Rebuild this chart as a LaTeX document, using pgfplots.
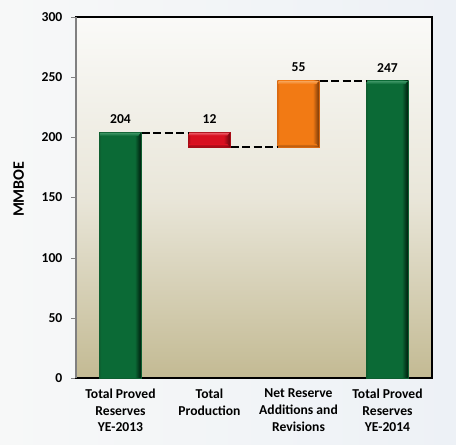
\documentclass[border=0pt]{standalone}
\usepackage{fontspec}
\setmainfont{Carlito}
\usepackage{pgfplots}
\pgfplotsset{compat=1.18}
\definecolor{gA}{HTML}{0E5E30}
\definecolor{gB}{HTML}{0B6A36}
\definecolor{gC}{HTML}{022A14}
\definecolor{gT}{HTML}{3E9565}
\definecolor{rA}{HTML}{A80C16}
\definecolor{rB}{HTML}{D81020}
\definecolor{rC}{HTML}{7A0810}
\definecolor{rT}{HTML}{EC5A66}
\definecolor{oA}{HTML}{D86810}
\definecolor{oB}{HTML}{F27A14}
\definecolor{oC}{HTML}{8E440A}
\definecolor{oT}{HTML}{F7A458}
\definecolor{bgTop}{HTML}{FAFAF8}
\definecolor{bgMid}{HTML}{E9E6D9}
\definecolor{bgBot}{HTML}{C3BA93}
\definecolor{outL}{HTML}{F7F8F8}
\definecolor{outR}{HTML}{EDF1F6}
\pgfdeclarehorizontalshading{greenbar}{100bp}{color(0bp)=(gA); color(25bp)=(gA); color(27bp)=(gB); color(67bp)=(gB); color(73bp)=(gC); color(100bp)=(gC)}
\pgfdeclarehorizontalshading{redbar}{100bp}{color(0bp)=(rA); color(25bp)=(rA); color(27bp)=(rB); color(67bp)=(rB); color(73bp)=(rC); color(100bp)=(rC)}
\pgfdeclarehorizontalshading{orangebar}{100bp}{color(0bp)=(oA); color(25bp)=(oA); color(27bp)=(oB); color(67bp)=(oB); color(73bp)=(oC); color(100bp)=(oC)}
\begin{document}
\begin{tikzpicture}
\shade[left color=outL, right color=outR] (-57pt,-49.5pt) rectangle (285pt,283.5pt);
\begin{axis}[
  at={(0,0)}, anchor=south west,
  scale only axis, width=267pt, height=270.75pt,
  xmin=-0.5, xmax=3.5, ymin=0, ymax=300,
  ytick={0,50,100,150,200,250,300},
  xtick={0,1,2,3},
  xticklabels={{Total Proved\\Reserves\\YE-2013},{Total\\Production},{Net Reserve\\Additions and\\Revisions},{Total Proved\\Reserves\\YE-2014}},
  xticklabel style={align=center, font=\bfseries\fontsize{10.2}{12.5}\selectfont, yshift=-1pt},
  yticklabel style={font=\bfseries\fontsize{10.2}{12}\selectfont, xshift=-3pt},
  /pgf/number format/assume math mode=true,
  ytick pos=left, tick align=outside, major tick length=3.75pt,
  ytick style={gray}, xtick style={draw=none},
  axis line style={black, line width=0.8pt},
  ylabel={MMBOE},
  ylabel style={at={(axis description cs:-0.161,0.523)}, anchor=center, rotate=0, font=\bfseries\fontsize{12}{14}\selectfont},
  axis background/.style={top color=bgTop, bottom color=bgBot, middle color=bgMid},
  clip=false,
]
% bar bodies
\addplot[draw=gA, line width=0.3pt, shading=greenbar] coordinates {(-0.236,0) (0.236,0) (0.236,204) (-0.236,204)} -- cycle;
\addplot[draw=rA, line width=0.3pt, shading=redbar] coordinates {(0.764,192) (1.236,192) (1.236,204) (0.764,204)} -- cycle;
\addplot[draw=oA, line width=0.3pt, shading=orangebar] coordinates {(1.764,192) (2.236,192) (2.236,247) (1.764,247)} -- cycle;
\addplot[draw=gA, line width=0.3pt, shading=greenbar] coordinates {(2.764,0) (3.236,0) (3.236,247) (2.764,247)} -- cycle;
% top bevels
\addplot[draw=none, top color=gT, bottom color=gB] coordinates {(-0.225,201.3) (0.200,201.3) (0.225,203.8) (-0.225,203.8)} -- cycle;
\addplot[draw=none, top color=rT, bottom color=rB] coordinates {(0.775,201.5) (1.200,201.5) (1.225,203.8) (0.775,203.8)} -- cycle;
\addplot[draw=none, top color=oT, bottom color=oB] coordinates {(1.775,244.3) (2.200,244.3) (2.225,246.8) (1.775,246.8)} -- cycle;
\addplot[draw=none, top color=gT, bottom color=gB] coordinates {(2.775,244.3) (3.200,244.3) (3.225,246.8) (2.775,246.8)} -- cycle;
% bottom bevels of floating bars
\addplot[draw=none, top color=rB, bottom color=rC] coordinates {(0.770,192.2) (1.225,192.2) (1.200,194.3) (0.770,194.3)} -- cycle;
\addplot[draw=none, top color=oB, bottom color=oC] coordinates {(1.770,192.2) (2.225,192.2) (2.200,194.5) (1.770,194.5)} -- cycle;
% connectors
\addplot[black, line width=1.5pt, dash pattern=on 6pt off 2.6pt] coordinates {(0.238,204) (0.762,204)};
\addplot[black, line width=1.5pt, dash pattern=on 6pt off 2.6pt] coordinates {(1.238,192) (1.762,192)};
\addplot[black, line width=1.5pt, dash pattern=on 6pt off 2.6pt] coordinates {(2.238,247) (2.762,247)};
% value labels
\addplot[draw=none, mark=none, nodes near coords, point meta=explicit symbolic,
  every node near coord/.style={anchor=south, yshift=3pt, font=\bfseries\fontsize{10.2}{12}\selectfont, text=black}]
  coordinates {(0,204) [204] (1,204) [12] (2,247) [55] (3,247) [247]};
\end{axis}
\draw[gray, line width=0.8pt] (0,0) -- (0,270.75pt);
\end{tikzpicture}
\end{document}
